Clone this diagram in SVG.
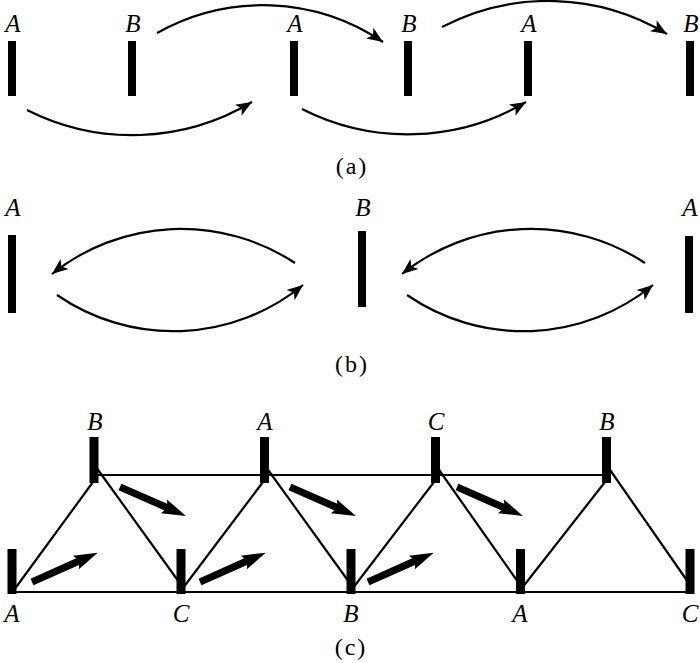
<svg xmlns="http://www.w3.org/2000/svg" xmlns:xlink="http://www.w3.org/1999/xlink" width="700" height="663" viewBox="0 0 700 663">
<style>
.lbl{font-family:"Liberation Serif","Times New Roman",serif;font-style:italic;font-size:25px;fill:#000;text-anchor:middle}
.cap{font-family:"Liberation Serif","Times New Roman",serif;font-size:24px;letter-spacing:2px;fill:#000;text-anchor:middle}
.arc{fill:none;stroke:#000;stroke-width:2.2;marker-end:url(#ah)}
.ln{stroke:#000;stroke-width:2.2;fill:none}
.bar{fill:#000}
</style>
<defs>
<marker id="ah" markerUnits="userSpaceOnUse" markerWidth="20" markerHeight="16" viewBox="-17 -8 19 16" refX="0" refY="0" orient="auto">
<path d="M0,0 L-16,-6.5 L-12,0 L-16,6.5 Z" fill="#000"/>
</marker>
<path id="thick" d="M0,-3.6 L50,-3.6 L48,-7.5 L72,0 L48,7.5 L50,3.6 L0,3.6 Z" fill="#000"/>
</defs>
<rect width="700" height="663" fill="#fff"/>

<!-- (a) -->
<g id="a-connectors">
<path class="arc" d="M27,110 A233,233 0 0 0 252,102"/>
<path class="arc" d="M157,33 A215,215 0 0 1 383,42"/>
<path class="arc" d="M302,109 A233,233 0 0 0 526,102"/>
<path class="arc" d="M442,27 A230,230 0 0 1 667,34"/>
</g>
<g id="a-A1"><rect class="bar" x="8" y="41" width="8" height="55"/><text class="lbl" x="13" y="32">A</text></g>
<g id="a-B1"><rect class="bar" x="128" y="41" width="8" height="55"/><text class="lbl" x="133" y="32">B</text></g>
<g id="a-A2"><rect class="bar" x="290" y="41" width="8" height="55"/><text class="lbl" x="295" y="32">A</text></g>
<g id="a-B2"><rect class="bar" x="404" y="41" width="8" height="55"/><text class="lbl" x="409" y="32">B</text></g>
<g id="a-A3"><rect class="bar" x="524" y="41" width="8" height="55"/><text class="lbl" x="529" y="32">A</text></g>
<g id="a-B3"><rect class="bar" x="686" y="41" width="8" height="55"/><text class="lbl" x="691" y="32">B</text></g>
<text class="cap" x="352" y="174">(a)</text>

<!-- (b) -->
<g id="b-connectors">
<path class="arc" d="M295,263 A207,207 0 0 0 52,274"/>
<path class="arc" d="M57,295 A205,205 0 0 0 303,285"/>
<path class="arc" d="M645,263 A207,207 0 0 0 402,274"/>
<path class="arc" d="M407,295 A205,205 0 0 0 653,285"/>
</g>
<g id="b-A1"><rect class="bar" x="8" y="235" width="8" height="78"/><text class="lbl" x="13" y="216">A</text></g>
<g id="b-B"><rect class="bar" x="358" y="231" width="8" height="76"/><text class="lbl" x="363" y="216">B</text></g>
<g id="b-A2"><rect class="bar" x="685" y="236" width="8" height="77"/><text class="lbl" x="690" y="216">A</text></g>
<text class="cap" x="352" y="372">(b)</text>

<!-- (c) -->
<g id="c-connectors">
<line class="ln" x1="94" y1="475" x2="606" y2="475"/>
<line class="ln" x1="12" y1="592" x2="690" y2="592"/>
<line class="ln" x1="14" y1="590" x2="93" y2="482"/>
<line class="ln" x1="96" y1="467" x2="179" y2="582"/>
<line class="ln" x1="183" y1="588" x2="263" y2="482"/>
<line class="ln" x1="266" y1="467" x2="349" y2="582"/>
<line class="ln" x1="353" y1="588" x2="434" y2="482"/>
<line class="ln" x1="437" y1="467" x2="518" y2="582"/>
<line class="ln" x1="522" y1="588" x2="605" y2="482"/>
<line class="ln" x1="608" y1="467" x2="688" y2="582"/>
<use xlink:href="#thick" transform="translate(32,582) rotate(-24)"/>
<use xlink:href="#thick" transform="translate(200,582) rotate(-24)"/>
<use xlink:href="#thick" transform="translate(368,582) rotate(-24)"/>
<use xlink:href="#thick" transform="translate(120,487) rotate(23.7)"/>
<use xlink:href="#thick" transform="translate(290,487) rotate(23.7)"/>
<use xlink:href="#thick" transform="translate(457,487) rotate(23.7)"/>
</g>
<g id="c-B1"><rect class="bar" x="89.5" y="437" width="9" height="46"/><text class="lbl" x="95" y="430">B</text></g>
<g id="c-A1"><rect class="bar" x="260" y="437" width="9" height="46"/><text class="lbl" x="265" y="430">A</text></g>
<g id="c-C1"><rect class="bar" x="431" y="437" width="9" height="46"/><text class="lbl" x="436" y="430">C</text></g>
<g id="c-B2"><rect class="bar" x="602" y="437" width="9" height="46"/><text class="lbl" x="607" y="430">B</text></g>
<g id="c-A2"><rect class="bar" x="7.5" y="549" width="9" height="45"/><text class="lbl" x="12" y="622">A</text></g>
<g id="c-C2"><rect class="bar" x="176.5" y="549" width="9" height="45"/><text class="lbl" x="181" y="622">C</text></g>
<g id="c-B3"><rect class="bar" x="346.5" y="549" width="9" height="45"/><text class="lbl" x="351" y="622">B</text></g>
<g id="c-A3"><rect class="bar" x="516" y="549" width="9" height="45"/><text class="lbl" x="520" y="622">A</text></g>
<g id="c-C3"><rect class="bar" x="685.5" y="549" width="9" height="45"/><text class="lbl" x="690" y="622">C</text></g>
<text class="cap" x="351" y="655">(c)</text>
</svg>
